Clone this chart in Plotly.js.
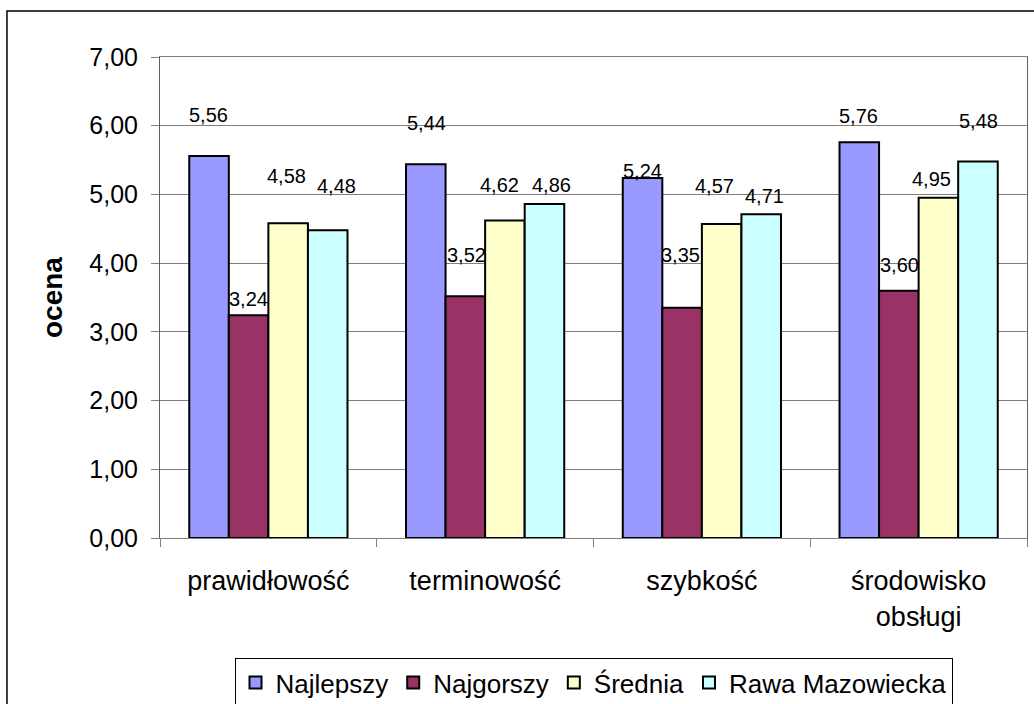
<!DOCTYPE html>
<html>
<head>
<meta charset="utf-8">
<script src="https://cdn.plot.ly/plotly-3.0.1.min.js"></script>
<style>html,body{margin:0;padding:0;background:#fff;}#chart{width:1034px;height:704px;}</style>
</head>
<body>
<div id="chart"></div>
<script>
// ---- data ----
var categories = ['prawidłowość', 'terminowość', 'szybkość', 'środowisko<br>obsługi'];
var seriesNames = ['Najlepszy', 'Najgorszy', 'Średnia', 'Rawa Mazowiecka'];
var najlepszy = [5.56, 5.44, 5.24, 5.76];
var najgorszy = [3.24, 3.52, 3.35, 3.60];
var srednia   = [4.58, 4.62, 4.57, 4.95];
var rawa      = [4.48, 4.86, 4.71, 5.48];

// ---- style ----
var colors = ['#9999FF', '#993366', '#FFFFCC', '#CCFFFF'];
// label placement (pixels), mimicking the original's hand-placed labels
var labelUp = [[40, 40, 6, 25], [15, 40, 52, 25], [46, 35, 37, 18], [43, 18, 17, 39]];
var labelDx = [[-1, 1, 0, -1], [0, 1, -2, 1], [-2, -5, -7, -7], [9, 7, 3, 1]];
var FONT = 'Arial, "Liberation Sans", sans-serif';
var bargap = 0.27;

var allSeries = [najlepszy, najgorszy, srednia, rawa];
var traces = allSeries.map(function (vals, i) {
  return {
    type: 'bar', name: seriesNames[i], x: categories, y: vals,
    marker: {color: colors[i], line: {color: '#000', width: 2}},
    hoverinfo: 'none'
  };
});

var fmt = function (v) { return v.toFixed(2).replace('.', ','); };
var n = allSeries.length;
var bw = (1 - bargap) / n;
var annotations = [];
allSeries.forEach(function (vals, i) {
  var off = (i - (n - 1) / 2) * bw;
  vals.forEach(function (v, j) {
    annotations.push({
      xref: 'x', yref: 'y', x: j + off, y: v, text: fmt(v),
      showarrow: false, xanchor: 'center', yanchor: 'middle',
      xshift: labelDx[i][j], yshift: labelUp[i][j] + 1,
      font: {family: FONT, size: 20, color: '#000'}
    });
  });
});

var layout = {
  width: 1034, height: 704,
  margin: {l: 160, r: 7, t: 57, b: 166, autoexpand: false},
  paper_bgcolor: '#fff', plot_bgcolor: '#fff',
  separators: ', ',
  barmode: 'group', bargap: bargap, bargroupgap: 0,
  font: {family: FONT, color: '#000'},
  showlegend: true,
  legend: {
    orientation: 'h', x: 0.5, xanchor: 'center', y: -0.2495, yanchor: 'top',
    bordercolor: '#000', borderwidth: 1, font: {family: FONT, size: 26, color: '#000'},
    traceorder: 'normal', itemwidth: 30, tracegroupgap: 0
  },
  xaxis: {
    type: 'category', tickson: 'boundaries', ticks: 'outside', ticklen: 8,
    tickcolor: '#808080', showline: true, linecolor: '#808080', linewidth: 1, mirror: true,
    tickfont: {family: FONT, size: 27, color: '#000'}, ticklabelstandoff: 19,
    showgrid: false, fixedrange: true, automargin: false
  },
  yaxis: {
    range: [0, 7], dtick: 1, tickformat: '.2f', ticks: 'outside', ticklen: 8,
    tickcolor: '#808080', showline: true, linecolor: '#606060', linewidth: 1, mirror: true,
    showgrid: true, gridcolor: '#808080', gridwidth: 1, zeroline: false,
    tickfont: {family: FONT, size: 25, color: '#000'}, ticklabelstandoff: 8,
    title: {text: '<b>ocena</b>', font: {family: FONT, size: 28, color: '#000'}, standoff: 18},
    fixedrange: true, automargin: false
  },
  annotations: annotations,
  shapes: [{
    type: 'rect', xref: 'paper', yref: 'paper',
    x0: -0.1765, x1: 1.05, y0: -0.6, y1: 1.0956,
    line: {color: '#000', width: 1.5}, fillcolor: 'rgba(0,0,0,0)', layer: 'below'
  }]
};

Plotly.newPlot('chart', traces, layout, {displayModeBar: false, staticPlot: true});
</script>
</body>
</html>
